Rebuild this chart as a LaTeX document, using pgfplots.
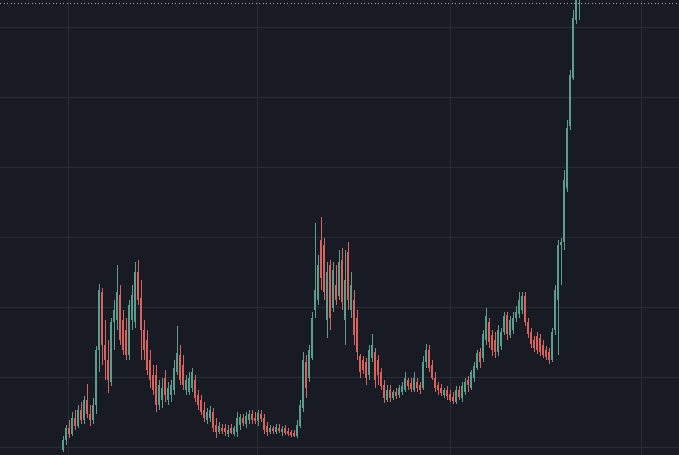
\documentclass[border=0pt]{standalone}
\usepackage{pgfplots}
\usepackage{pgfplotstable}
\pgfplotsset{compat=1.18}
\definecolor{bgc}{HTML}{181B24}
\definecolor{gridc}{HTML}{282C37}
\definecolor{upc}{HTML}{5B9E8E}
\definecolor{dnc}{HTML}{D8625C}
\definecolor{dotc}{HTML}{A5A8B0}
% values are pixel positions from the top of the chart (y axis reversed)
\pgfplotstableread{
x o h l c
63 450 436 452 440
66 440 425 445 428
72 434 412 436 418
78 426 405 428 410
84 420 396 424 400
93 420 398 424 405
96 405 346 414 350
99 350 284 372 290
111 382 318 386 322
114 322 300 350 310
117 320 265 330 292
129 355 300 360 305
132 320 285 330 295
135 322 262 328 272
159 405 380 410 385
162 400 378 408 388
168 400 382 405 388
171 395 380 402 385
174 390 360 395 368
177 372 326 375 353
186 390 375 395 380
189 392 372 395 378
192 388 368 392 372
207 420 408 424 412
210 418 406 422 410
219 432 422 434 426
228 434 425 437 430
234 434 426 436 428
237 432 412 437 418
240 425 414 430 417
246 424 412 428 416
249 420 410 424 414
258 421 410 426 413
270 432 425 434 428
276 432 424 434 427
282 432 426 436 429
297 436 420 438 425
300 426 400 428 405
303 408 352 412 360
309 378 345 382 350
312 358 312 360 318
315 310 223 318 290
318 300 255 305 265
327 320 262 338 272
333 308 262 312 270
339 296 250 300 262
345 320 250 345 280
351 310 272 318 285
369 375 345 380 350
372 358 334 362 345
387 400 385 402 390
393 398 390 400 392
399 395 385 398 388
402 392 382 395 386
405 390 372 392 378
414 390 372 392 378
423 388 356 390 362
426 362 344 368 350
444 395 388 398 390
456 402 386 404 390
462 398 382 402 386
465 392 378 395 382
471 388 370 390 372
474 378 362 382 366
477 368 350 370 353
483 358 330 362 334
486 340 308 345 316
498 352 325 356 330
501 346 328 350 332
504 332 312 335 316
510 335 316 338 320
513 330 312 334 318
516 318 306 322 312
519 314 292 318 300
522 310 292 314 296
552 360 328 362 332
555 330 285 335 290
558 300 240 355 245
561 245 238 285 242
564 242 170 250 180
567 188 120 192 128
570 126 70 130 75
573 78 10 80 18
576 20 -20 24 -15
579 0 -20 20 -10
}\up
\pgfplotstableread{
x o h l c
69 428 420 438 434
75 418 410 430 426
81 410 402 424 420
87 400 384 418 414
90 414 405 426 420
102 292 288 365 345
105 345 320 380 360
108 360 340 393 380
120 295 285 345 340
123 320 310 355 350
126 330 318 360 355
138 272 260 305 300
141 298 280 360 330
144 330 320 360 350
147 340 330 375 370
150 360 350 388 380
153 375 365 395 390
156 375 365 412 405
165 378 370 402 395
180 355 345 385 380
183 365 355 390 385
195 380 375 402 398
198 395 390 410 405
201 400 395 415 412
204 410 402 422 418
213 412 408 432 428
216 425 418 438 432
222 428 424 434 431
225 428 424 436 432
231 428 424 434 433
243 418 414 426 423
252 414 410 424 420
255 418 412 424 421
261 414 410 422 419
264 418 414 434 430
267 426 422 436 432
273 428 426 434 431
279 428 424 433 431
285 428 425 435 433
288 431 428 436 434
291 432 430 437 435
294 433 430 437 436
306 362 355 398 388
321 240 217 290 278
324 245 238 300 292
330 265 260 330 318
336 285 265 305 300
342 260 248 310 302
348 252 242 310 300
354 300 290 345 335
357 318 310 360 352
360 356 354 378 372
363 360 356 374 370
366 362 358 385 378
375 352 348 388 380
378 360 355 385 375
381 372 368 390 386
384 385 380 403 398
390 390 385 402 398
396 392 388 399 396
408 380 378 390 386
411 383 378 392 389
417 382 378 392 388
420 385 382 394 390
429 350 345 372 368
432 365 360 380 378
435 378 372 392 388
438 385 382 395 390
441 388 384 396 393
447 390 386 400 396
450 394 390 402 400
453 397 392 404 401
459 390 386 400 397
468 380 376 392 385
480 352 348 368 362
489 322 318 348 342
492 335 330 356 350
495 340 332 358 352
507 315 312 340 334
525 296 292 326 322
528 322 318 338 334
531 332 328 348 344
534 340 336 352 348
537 336 332 354 350
540 338 334 356 352
543 345 340 358 355
546 350 346 360 357
549 352 348 364 360
}\dn
\begin{document}
\begin{tikzpicture}
\begin{axis}[
  scale only axis, width=679bp, height=455bp,
  xmin=0, xmax=679, ymin=0, ymax=455, y dir=reverse,
  axis background/.style={fill=bgc},
  axis line style={draw=none},
  xtick={68,257,450,641}, ytick={27,97,167,237,307,377,447},
  xticklabels={}, yticklabels={},
  major tick length=0pt,
  grid=major, grid style={gridc, line width=0.9bp},
  clip=true,
]
\addplot[draw=upc, line width=0.9bp, quiver={u=0, v=\thisrow{l}-\thisrow{h}}] table[x=x, y=h] {\up};
\addplot[draw=dnc, line width=0.9bp, quiver={u=0, v=\thisrow{l}-\thisrow{h}}] table[x=x, y=h] {\dn};
\addplot[draw=upc, line width=2.5bp, quiver={u=0, v=\thisrow{o}-\thisrow{c}}] table[x=x, y=c] {\up};
\addplot[draw=dnc, line width=2.5bp, quiver={u=0, v=\thisrow{c}-\thisrow{o}}] table[x=x, y=o] {\dn};
\addplot[draw=dotc, line width=0.9bp, dash pattern=on 1bp off 2.5bp] coordinates {(0,3) (679,3)};
\end{axis}
\pgfresetboundingbox
\path[use as bounding box] (current axis.south west) rectangle (current axis.north east);
\end{tikzpicture}
\end{document}
